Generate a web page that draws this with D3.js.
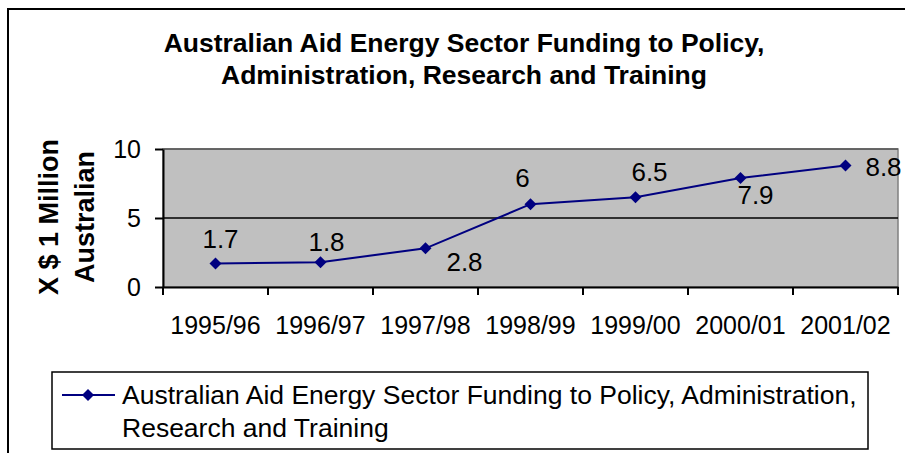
<!DOCTYPE html>
<html>
<head>
<meta charset="utf-8">
<script src="https://cdn.jsdelivr.net/npm/d3@7"></script>
<style>
    body { margin: 0; background: #fff; }
    text { font-family: "Liberation Sans", Arial, sans-serif; }
</style>
</head>
<body>
<div id="chart"></div>
<script>
const years = ["1995/96", "1996/97", "1997/98", "1998/99", "1999/00", "2000/01", "2001/02"];
const funding = [1.7, 1.8, 2.8, 6, 6.5, 7.9, 8.8];
const yTicks = [0, 5, 10];
const titleLines = ["Australian Aid Energy Sector Funding to Policy,", "Administration, Research and Training"];
const yTitleLines = ["X $ 1 Million", "Australian"];
const legendLines = ["Australian Aid Energy Sector Funding to Policy, Administration,", "Research and Training"];

const drawChart = () => {
    const W = 905, H = 453;
    const plot = { left: 163, right: 898, top: 149, bottom: 287 };
    const navy = "#000080";

    const svg = d3.select("#chart")
        .append("svg")
        .attr("width", W)
        .attr("height", H);

    // outer chart border (runs off the right/bottom edge)
    svg.append("rect")
        .attr("x", 8).attr("y", 9)
        .attr("width", W + 20).attr("height", H + 20)
        .attr("fill", "#fff")
        .attr("stroke", "#000")
        .attr("stroke-width", 2);

    // title
    svg.append("text")
        .attr("text-anchor", "middle")
        .style("font-weight", "bold")
        .style("font-size", "26.5px")
        .selectAll("tspan")
        .data(titleLines)
        .join("tspan")
        .attr("x", 464)
        .attr("y", (d, i) => 52 + i * 32)
        .text(d => d);

    const x = d3.scaleBand()
        .domain(years)
        .range([plot.left, plot.right])
        .padding(0);

    const y = d3.scaleLinear()
        .domain([0, 10])
        .range([plot.bottom, plot.top]);

    // plot area
    svg.append("rect")
        .attr("x", plot.left).attr("y", plot.top)
        .attr("width", plot.right - plot.left)
        .attr("height", plot.bottom - plot.top)
        .attr("fill", "#C0C0C0")
        .attr("stroke", "#808080")
        .attr("stroke-width", 1.5);

    // gridlines
    svg.selectAll(".grid")
        .data(yTicks.filter(d => d > 0))
        .join("line")
        .attr("class", "grid")
        .attr("x1", plot.left).attr("x2", plot.right)
        .attr("y1", d => y(d)).attr("y2", d => y(d))
        .attr("stroke", d => d === 10 ? "#555" : "#000")
        .attr("stroke-width", 1.5);

    // y axis
    const yAxis = svg.append("g")
        .attr("transform", `translate(${plot.left},0)`)
        .call(d3.axisLeft(y).tickValues(yTicks).tickSize(8).tickPadding(14).tickSizeOuter(0));
    yAxis.select(".domain").attr("stroke", "#000").attr("stroke-width", 2);
    yAxis.selectAll(".tick line").attr("stroke-width", 2);
    yAxis.selectAll("text")
        .style("font-size", "25px")
        .attr("fill", "#000")
        .attr("dy", "0.35em");

    // x axis labels
    const xAxis = svg.append("g")
        .attr("transform", `translate(0,${plot.bottom})`)
        .call(d3.axisBottom(x).tickSize(0).tickPadding(29).tickSizeOuter(0));
    xAxis.select(".domain").attr("stroke", "#000").attr("stroke-width", 2);
    xAxis.selectAll("text")
        .style("font-size", "25px")
        .attr("fill", "#000");

    // x tick marks sit on category boundaries
    const bounds = years.map(d => x(d)).concat([plot.right]);
    svg.selectAll(".xtick")
        .data(bounds)
        .join("line")
        .attr("class", "xtick")
        .attr("x1", d => d).attr("x2", d => d)
        .attr("y1", plot.bottom).attr("y2", plot.bottom + 8)
        .attr("stroke", "#000")
        .attr("stroke-width", 2);

    // y axis title
    svg.append("text")
        .attr("transform", `translate(0,217) rotate(-90)`)
        .attr("text-anchor", "middle")
        .style("font-weight", "bold")
        .style("font-size", "27px")
        .selectAll("tspan")
        .data(yTitleLines)
        .join("tspan")
        .attr("x", 0)
        .attr("y", (d, i) => 58 + i * 36)
        .text(d => d);

    const cx = d => x(d) + x.bandwidth() / 2;

    const line = d3.line()
        .x((d, i) => cx(years[i]))
        .y(d => y(d));

    svg.append("path")
        .datum(funding)
        .attr("d", line)
        .attr("fill", "none")
        .attr("stroke", navy)
        .attr("stroke-width", 2);

    const diamond = d3.symbol(d3.symbolSquare, 72);

    svg.selectAll(".marker")
        .data(funding)
        .join("path")
        .attr("class", "marker")
        .attr("d", diamond)
        .attr("transform", (d, i) => `translate(${cx(years[i])},${y(d)}) rotate(45)`)
        .attr("fill", navy);

    // data labels, offset from each point like the original
    const labelOffsets = [[5, -16], [6, -11], [39, 23], [-8, -17], [14, -16], [15, 26], [38, 10]];
    svg.selectAll(".dlabel")
        .data(funding)
        .join("text")
        .attr("class", "dlabel")
        .attr("x", (d, i) => cx(years[i]) + labelOffsets[i][0])
        .attr("y", (d, i) => y(d) + labelOffsets[i][1])
        .attr("text-anchor", "middle")
        .style("font-size", "26px")
        .text(d => d);

    // legend
    const legend = svg.append("g");
    legend.append("rect")
        .attr("x", 52).attr("y", 372)
        .attr("width", 816).attr("height", 77)
        .attr("fill", "#fff")
        .attr("stroke", "#000")
        .attr("stroke-width", 1.5);
    legend.append("line")
        .attr("x1", 62).attr("x2", 115)
        .attr("y1", 395).attr("y2", 395)
        .attr("stroke", navy)
        .attr("stroke-width", 2);
    legend.append("path")
        .attr("d", diamond)
        .attr("transform", "translate(88,395) rotate(45)")
        .attr("fill", navy);
    legend.append("text")
        .style("font-size", "26.5px")
        .selectAll("tspan")
        .data(legendLines)
        .join("tspan")
        .attr("x", 122)
        .attr("y", (d, i) => 404 + i * 33)
        .text(d => d);
};

drawChart();
</script>
</body>
</html>
